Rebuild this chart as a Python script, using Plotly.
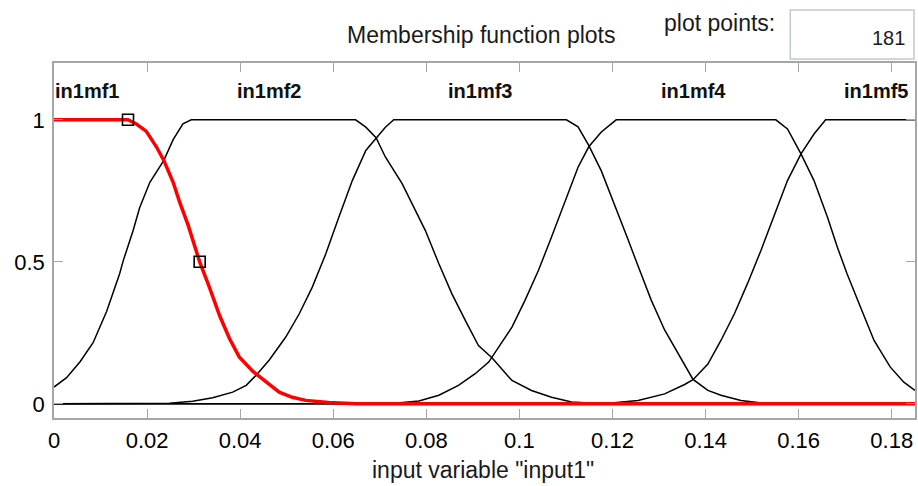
import plotly.graph_objects as go

# ---------------- data ----------------
mf1_x = [0, 0.0159, 0.0177, 0.0198, 0.0220, 0.0236, 0.0256, 0.0270, 0.0288, 0.0313,
         0.0334, 0.0356, 0.0377, 0.0398, 0.0427, 0.0441, 0.0463, 0.0484, 0.0512, 0.0541,
         0.0590, 0.0650, 0.185]
mf1_y = [1, 1, 0.985, 0.96, 0.905, 0.857, 0.78, 0.71, 0.63, 0.50,
         0.41, 0.31, 0.23, 0.165, 0.115, 0.097, 0.066, 0.041, 0.023, 0.012,
         0.005, 0, 0]

mf2_x = [0, 0.0027, 0.0056, 0.0084, 0.0113, 0.0141, 0.0149, 0.0170, 0.0184, 0.0206,
         0.0236, 0.0256, 0.0277, 0.0295, 0.0648, 0.0670, 0.0692, 0.0712, 0.0748, 0.0777,
         0.0798, 0.0827, 0.0855, 0.0884, 0.0912, 0.0941, 0.0984, 0.1026, 0.1069, 0.1112,
         0.118, 0.185]
mf2_y = [0.059, 0.092, 0.148, 0.215, 0.325, 0.458, 0.505, 0.61, 0.69, 0.78,
         0.857, 0.93, 0.986, 1, 1, 0.974, 0.937, 0.869, 0.775, 0.68,
         0.61, 0.493, 0.387, 0.293, 0.205, 0.162, 0.082, 0.047, 0.023, 0.006,
         0, 0]

mf3_x = [0, 0.0248, 0.0298, 0.0341, 0.0384, 0.0413, 0.0434, 0.0463, 0.0498, 0.0527,
         0.0555, 0.0584, 0.0612, 0.0641, 0.0670, 0.0692, 0.0712, 0.0730, 0.1101, 0.1126,
         0.1149, 0.1176, 0.1205, 0.1233, 0.1255, 0.1283, 0.1312, 0.1340, 0.1373, 0.1405,
         0.1433, 0.1476, 0.1526, 0.160, 0.185]
mf3_y = [0, 0.002, 0.009, 0.021, 0.041, 0.065, 0.10, 0.155, 0.235, 0.317,
         0.411, 0.528, 0.657, 0.786, 0.892, 0.937, 0.974, 1, 1, 0.975,
         0.91, 0.82, 0.70, 0.58, 0.485, 0.366, 0.26, 0.178, 0.086, 0.047,
         0.03, 0.012, 0.002, 0, 0]

mf4_x = [0, 0.072, 0.0784, 0.0827, 0.0869, 0.0905, 0.0934, 0.0984, 0.1012, 0.1041,
         0.1069, 0.1098, 0.1126, 0.1149, 0.1176, 0.1208, 0.1551, 0.1576, 0.1605, 0.1633,
         0.1662, 0.1683, 0.1704, 0.1733, 0.1762, 0.1797, 0.1826, 0.185]
mf4_y = [0, 0, 0.01, 0.03, 0.065, 0.106, 0.147, 0.27, 0.364, 0.47,
         0.587, 0.716, 0.833, 0.905, 0.957, 1, 1, 0.968, 0.88, 0.786,
         0.657, 0.552, 0.458, 0.34, 0.223, 0.129, 0.076, 0.047]

mf5_x = [0, 0.118, 0.1255, 0.1312, 0.1355, 0.1373, 0.1405, 0.1433, 0.1462, 0.1490,
         0.1519, 0.1548, 0.1576, 0.1605, 0.1633, 0.1658, 0.185]
mf5_y = [0, 0, 0.012, 0.035, 0.068, 0.085, 0.14, 0.223, 0.317, 0.423,
         0.54, 0.669, 0.786, 0.88, 0.95, 1, 1]

handle_x = [0.0159, 0.0313]
handle_y = [1, 0.5]

mf_labels = ["in1mf1", "in1mf2", "in1mf3", "in1mf4", "in1mf5"]
mf_label_x = [0.0071, 0.0463, 0.0916, 0.1373, 0.1767]
mf_label_y = 1.1

x_ticks = [0, 0.02, 0.04, 0.06, 0.08, 0.1, 0.12, 0.14, 0.16, 0.18]
x_tick_text = ["0", "0.02", "0.04", "0.06", "0.08", "0.1", "0.12", "0.14", "0.16", "0.18"]
y_ticks = [0, 0.5, 1]
y_tick_text = ["0", "0.5", "1"]

title_text = "Membership function plots"
xlabel_text = 'input variable "input1"'
points_label = "plot points:"
points_value = "181"

# ---------------- figure ----------------
W, H = 918, 486
ML, MR, MT, MB = 54, 1, 63, 68
PW, PH = W - ML - MR, H - MT - MB


def px(xp):
    return (xp - ML) / PW


def py(yp):
    return (H - MB - yp) / PH


FONT = "Liberation Sans, Arial, sans-serif"

fig = go.Figure()
for xs, ys in [(mf2_x, mf2_y), (mf3_x, mf3_y), (mf4_x, mf4_y), (mf5_x, mf5_y)]:
    fig.add_trace(go.Scatter(x=xs, y=ys, mode="lines",
                             line=dict(color="black", width=1.5),
                             hoverinfo="skip", showlegend=False))
fig.add_trace(go.Scatter(x=mf1_x, y=mf1_y, mode="lines",
                         line=dict(color="#ff0000", width=3.5),
                         hoverinfo="skip", showlegend=False))
fig.add_trace(go.Scatter(x=handle_x, y=handle_y, mode="markers",
                         marker=dict(symbol="square-open", size=11,
                                     color="black", line=dict(width=1.6, color="black")),
                         hoverinfo="skip", showlegend=False))

annotations = []
for lab, lx in zip(mf_labels, mf_label_x):
    annotations.append(dict(x=lx, y=mf_label_y, xref="x", yref="y", text="<b>" + lab + "</b>",
                            showarrow=False, xanchor="center", yanchor="middle",
                            font=dict(family=FONT, size=20, color="#111111")))

annotations.append(dict(x=px(482), y=py(35), xref="paper", yref="paper", text=title_text,
                        showarrow=False, xanchor="center", yanchor="middle",
                        font=dict(family=FONT, size=23, color="#1a1a1a")))
annotations.append(dict(x=px(721), y=py(23), xref="paper", yref="paper", text=points_label,
                        showarrow=False, xanchor="center", yanchor="middle",
                        font=dict(family=FONT, size=23, color="#1a1a1a")))
annotations.append(dict(x=px(909), y=py(38), xref="paper", yref="paper", text=points_value,
                        showarrow=False, xanchor="right", yanchor="middle",
                        font=dict(family=FONT, size=20, color="#1a1a1a")))
annotations.append(dict(x=px(484), y=py(470), xref="paper", yref="paper", text=xlabel_text,
                        showarrow=False, xanchor="center", yanchor="middle",
                        font=dict(family=FONT, size=23, color="#1a1a1a")))

shapes = [dict(type="rect", xref="paper", yref="paper",
               x0=px(792), x1=px(916), y0=py(59), y1=py(10),
               line=dict(color="#c3c7d0", width=1.5), fillcolor="white", layer="below")]

fig.update_layout(
    width=W, height=H,
    margin=dict(l=ML, r=MR, t=MT, b=MB, pad=0),
    paper_bgcolor="white", plot_bgcolor="white",
    showlegend=False,
    annotations=annotations,
    shapes=shapes,
    xaxis=dict(range=[0, 0.185], tickvals=x_ticks, ticktext=x_tick_text,
               showgrid=False, zeroline=False, showline=True, linecolor="#a6a6a6",
               linewidth=1.5, mirror="ticks", ticks="inside", ticklen=9,
               tickcolor="#a6a6a6", tickwidth=1.2, ticklabelstandoff=2,
               tickfont=dict(family=FONT, size=22, color="black")),
    yaxis=dict(range=[-0.05, 1.2], tickvals=y_ticks, ticktext=y_tick_text,
               showgrid=False, zeroline=False, showline=True, linecolor="#a6a6a6",
               linewidth=1.5, mirror="ticks", ticks="inside", ticklen=9,
               tickcolor="#a6a6a6", tickwidth=1.2, ticklabelstandoff=3,
               tickfont=dict(family=FONT, size=22, color="black")),
)

fig.write_html("out.html", config={"displayModeBar": False},
               post_script="document.body.style.margin='0px';document.body.style.overflow='hidden';")
